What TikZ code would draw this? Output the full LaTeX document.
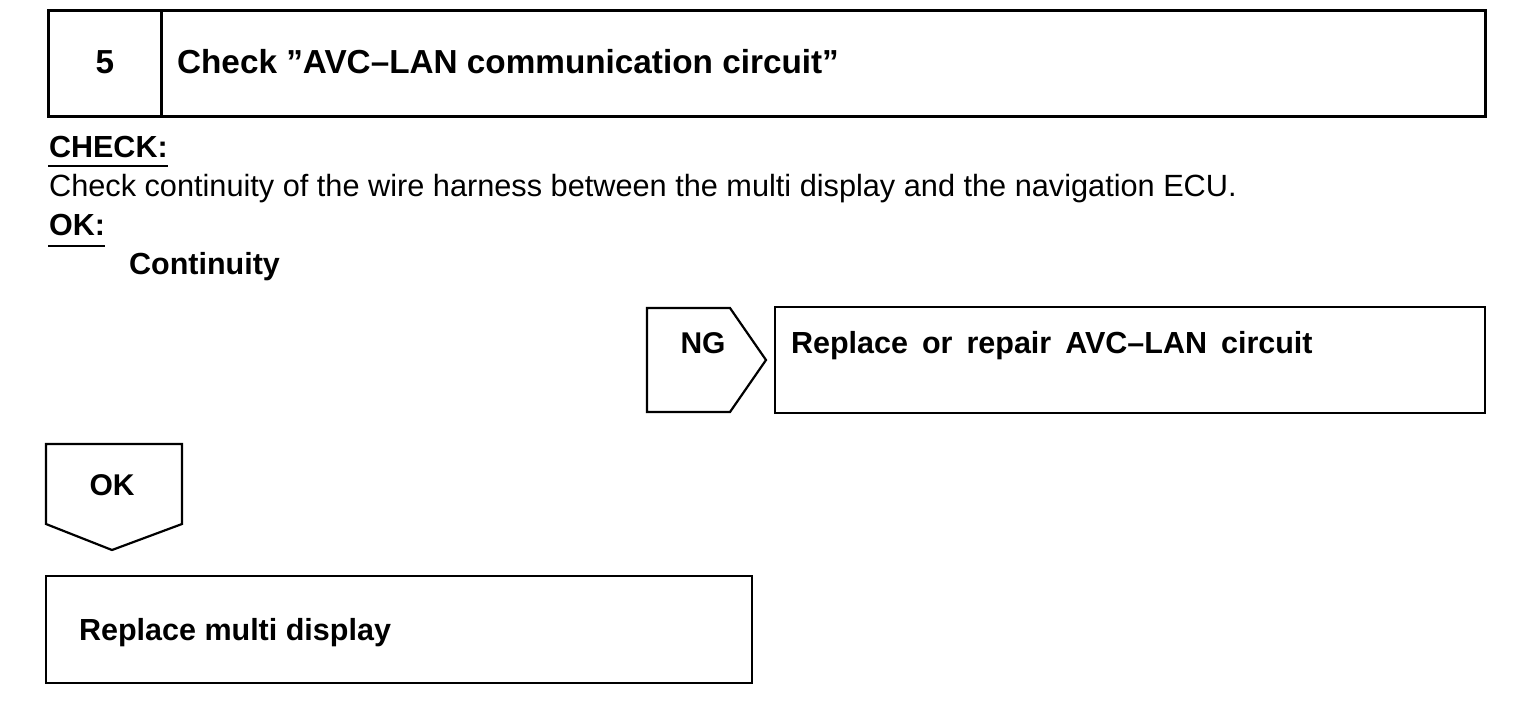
\documentclass[tikz,border=0pt]{standalone}
\usepackage{fontspec}
\setmainfont{Liberation Sans}
\begin{document}
\begin{tikzpicture}
  [
  x=1pt, y=-1pt, line width=2.2pt, draw=black,
  heading/.style={anchor=base west, inner sep=0pt, font=\fontsize{33.3}{40}\selectfont\bfseries},
  caption/.style={anchor=base west, inner sep=0pt, font=\fontsize{30.5}{36}\selectfont\bfseries},
  plain/.style={anchor=base west, inner sep=0pt, font=\fontsize{30.7}{36}\selectfont},
  tag/.style={anchor=base, inner sep=0pt, font=\fontsize{30}{36}\selectfont\bfseries}
  ]

\useasboundingbox (0,0) rectangle (1520,710);

% step header
\draw[line width=3pt] (48,10) rectangle (1485,116);
\draw[line width=3pt] (161,10) -- (161,116);
\node[heading, anchor=base] (num) at (105,73) {5};
\node[heading] (title) at (176,73) {Check ”AVC–LAN communication circuit”};

% check text
\node[caption] (check) at (48,157) {CHECK:};
\draw[line width=1.5pt] (check.base west) ++(0,9) -- ++(120,0);
\node[plain] (desc) at (48,196) {Check continuity of the wire harness between the multi display and the navigation ECU.};
\node[caption] (ok) at (48,235) {OK:};
\draw[line width=1.5pt] (ok.base west) ++(0,11) -- ++(57,0);
\node[caption] (cont) at (128,274) {Continuity};

% NG branch
\draw (647,308) -- (730,308) -- (766,360) -- (730,412) -- (647,412) -- cycle;
\node[tag] (ng) at (703,353) {NG};
\draw (775,307) rectangle (1485,413);
\node[caption] (repair) at (790,353) {\spaceskip=14pt\relax Replace or repair AVC–LAN circuit};

% OK branch
\draw (46,444) -- (182,444) -- (182,524) -- (112,550) -- (46,524) -- cycle;
\node[tag] (okb) at (112,495) {OK};
\draw (46,576) rectangle (752,683);
\node[caption] (replace) at (78,640) {Replace multi display};

\end{tikzpicture}
\end{document}
